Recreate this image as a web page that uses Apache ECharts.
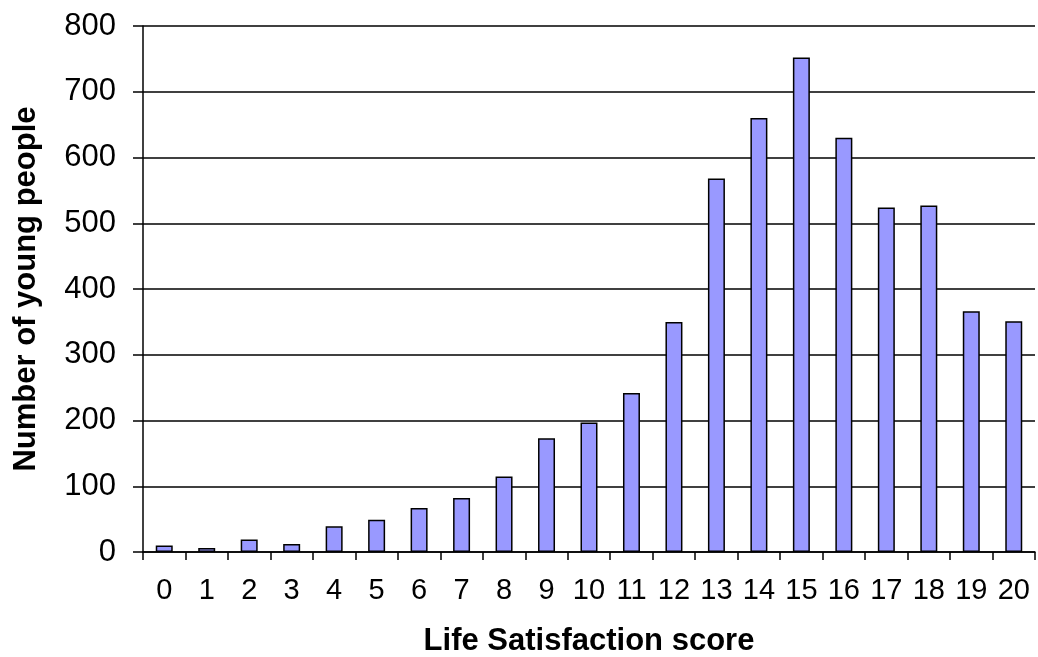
<!DOCTYPE html>
<html><head><meta charset="utf-8">
<script src="https://cdn.jsdelivr.net/npm/echarts@6/dist/echarts.min.js"></script>
<style>html,body{margin:0;padding:0;background:#fff}#c{width:1038px;height:657px}</style>
</head><body><div id="c"></div>
<script>
const categories = ['0','1','2','3','4','5','6','7','8','9','10','11','12','13','14','15','16','17','18','19','20'];
const counts = [10, 6, 19, 12, 39, 49, 67, 82, 115, 173, 197, 242, 350, 568, 660, 752, 630, 524, 527, 366, 351];
const yTicks = { min: 0, max: 800, interval: 100 };
const xTitle = 'Life Satisfaction score';
const yTitle = 'Number of young people';

const chart = echarts.init(document.getElementById('c'), null, {renderer: 'canvas'});
const font = 'Liberation Sans, Arial, sans-serif';
chart.setOption({
  animation: false,
  grid: { left: 143, right: 3, top: 26, bottom: 105, containLabel: false, outerBoundsMode: 'none' },
  xAxis: {
    type: 'category', data: categories,
    name: xTitle, nameLocation: 'middle', nameGap: 74,
    nameTextStyle: { fontFamily: font, fontSize: 31, fontWeight: 'bold', color: '#000' },
    axisLine: { lineStyle: { color: '#000', width: 1.5 } },
    axisTick: { show: true, length: 8, inside: false, lineStyle: { color: '#000', width: 1.5 }, alignWithLabel: false },
    axisLabel: { fontFamily: font, fontSize: 29, color: '#000', margin: 24, interval: 0 }
  },
  yAxis: {
    type: 'value', min: yTicks.min, max: yTicks.max, interval: yTicks.interval,
    name: yTitle, nameLocation: 'middle', nameGap: 101,
    nameTextStyle: { fontFamily: font, fontSize: 31, fontWeight: 'bold', color: '#000' },
    axisLine: { show: true, lineStyle: { color: '#000', width: 1.5 } },
    axisTick: { show: true, length: 10, lineStyle: { color: '#000', width: 1.5 } },
    axisLabel: { fontFamily: font, fontSize: 31, color: '#000', margin: 27 },
    splitLine: { show: true, lineStyle: { color: '#000', width: 1.5 } }
  },
  series: [{
    type: 'bar', data: counts, barWidth: '40%',
    itemStyle: { color: '#9999FF', borderColor: '#000', borderWidth: 1.5 }
  }]
});
</script></body></html>
